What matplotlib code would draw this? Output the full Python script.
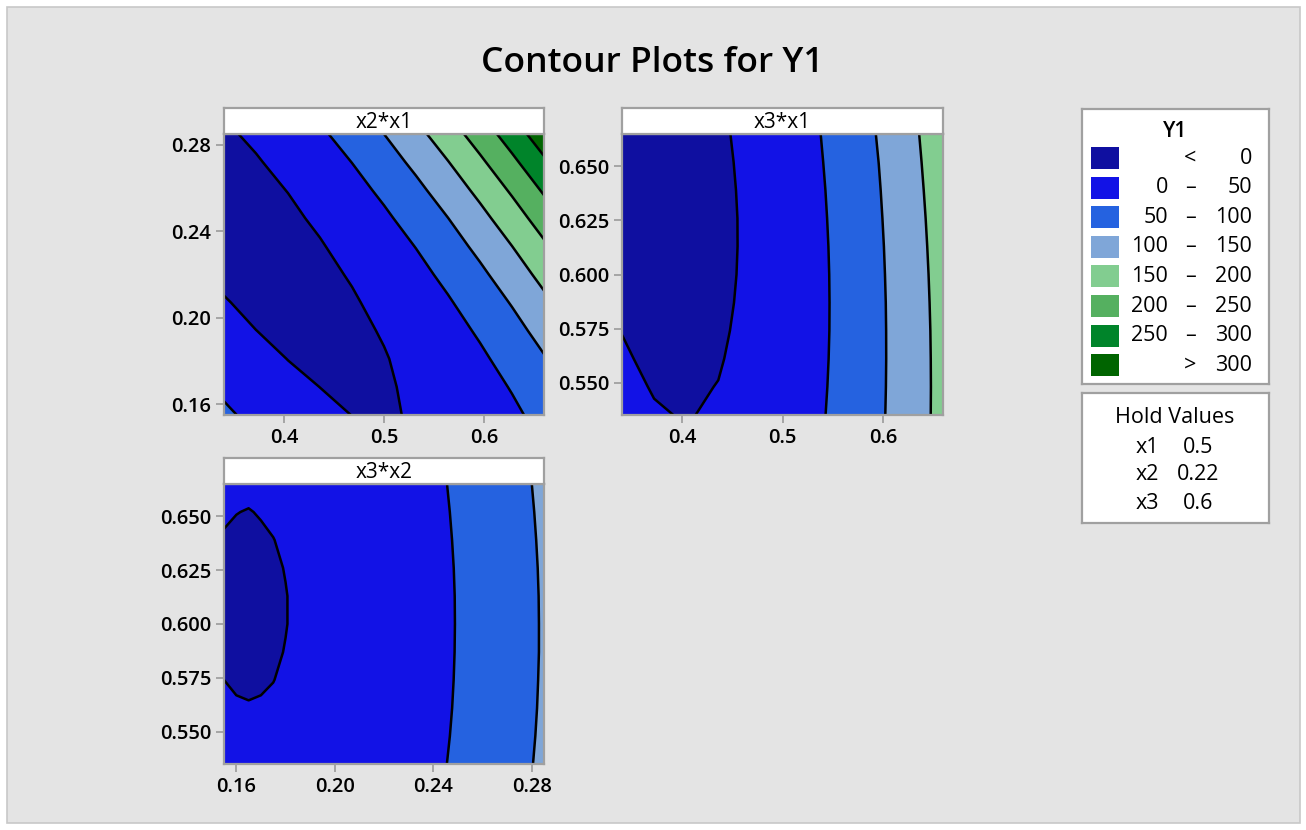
import numpy as np
import matplotlib.pyplot as plt
from matplotlib.patches import Rectangle

plt.rcParams['font.family'] = ['Open Sans', 'DejaVu Sans']

# grid nodes of the three contour panels
x1_nodes = [0.340, 0.372, 0.404, 0.436, 0.468, 0.500, 0.532, 0.564, 0.596, 0.628, 0.660]
x2_nodes = [0.155, 0.168, 0.181, 0.194, 0.207, 0.220, 0.233, 0.246, 0.259, 0.272, 0.285]
x3_nodes = [0.535, 0.548, 0.561, 0.574, 0.587, 0.600, 0.613, 0.626, 0.639, 0.652, 0.665]
x2_nodes_b = [0.155, 0.160, 0.165, 0.170, 0.175, 0.180, 0.185, 0.205, 0.225, 0.245, 0.265, 0.285]

# Y1 (rows = y nodes, cols = x nodes)
y1_x2x1 = [
    [58.8, 36.9, 20.0, 8.0, -0.3, -2.5, 2.0, 10.2, 23.3, 41.3, 64.4],
    [40.7, 22.1, 8.4, -0.2, -3.9, -2.5, 3.8, 15.2, 31.5, 52.8, 79.2],
    [25.2, 9.8, -0.5, -5.9, -6.2, -1.6, 8.1, 22.7, 42.3, 66.9, 96.6],
    [12.2, 0.2, -6.9, -8.9, -6.0, 2.0, 14.9, 32.8, 55.8, 83.7, 116.6],
    [1.9, -6.8, -10.6, -9.3, -3.1, 8.1, 24.4, 45.6, 71.8, 103.0, 139.2],
    [-5.8, -11.2, -11.7, -7.1, 2.4, 16.9, 36.4, 61.0, 90.5, 125.0, 164.5],
    [-10.8, -13.0, -10.2, -2.3, 10.5, 28.3, 51.1, 78.9, 111.8, 149.6, 192.4],
    [-13.3, -12.2, -6.0, 5.1, 21.2, 42.3, 68.4, 99.5, 135.6, 176.7, 222.8],
    [-13.2, -8.7, 0.7, 15.1, 34.5, 58.9, 88.3, 122.7, 162.1, 206.5, 255.9],
    [-10.4, -2.7, 10.0, 27.8, 50.5, 78.2, 110.9, 148.6, 191.3, 239.0, 291.6],
    [-5.0, 6.0, 22.0, 43.0, 69.0, 100.0, 136.0, 177.0, 223.0, 274.0, 330.0],
]
y1_x3x1 = [
    [8.8, 1.8, -1.2, 2.9, 11.0, 24.0, 42.1, 65.2, 93.3, 126.4, 164.6],
    [5.4, -1.3, -2.9, 0.5, 8.9, 22.3, 40.7, 64.1, 92.6, 126.0, 164.5],
    [2.3, -4.0, -5.3, -1.6, 7.1, 20.9, 39.6, 63.4, 92.2, 126.0, 164.8],
    [-0.4, -6.4, -7.3, -3.3, 5.8, 19.9, 38.9, 63.0, 92.2, 126.3, 165.4],
    [-2.7, -8.3, -9.0, -4.6, 4.8, 19.2, 38.6, 63.1, 92.5, 127.0, 166.5],
    [-4.6, -9.9, -10.2, -5.5, 4.2, 19.0, 38.7, 63.5, 93.3, 128.1, 167.9],
    [-6.1, -11.1, -11.1, -6.0, 4.0, 19.1, 39.2, 64.3, 94.4, 129.6, 169.7],
    [-7.3, -11.9, -11.5, -6.2, 4.2, 19.7, 40.1, 65.5, 96.0, 131.4, 171.9],
    [-8.0, -12.4, -11.6, -5.9, 4.8, 20.6, 41.3, 67.1, 97.9, 133.7, 174.5],
    [-8.4, -12.4, -11.4, -5.3, 5.8, 21.9, 43.0, 69.1, 100.2, 136.3, 177.5],
    [-8.4, -12.1, -10.7, -4.3, 7.1, 23.5, 45.0, 71.4, 102.9, 139.3, 180.8],
]
y1_x3x2 = [
    [4.3, 3.7, 3.5, 3.6, 4.1, 5.0, 6.2, 14.7, 29.1, 49.3, 75.3, 107.1],
    [2.5, 1.9, 1.7, 1.9, 2.4, 3.3, 4.5, 13.1, 27.5, 47.7, 73.8, 105.6],
    [1.0, 0.5, 0.3, 0.5, 1.0, 1.9, 3.1, 11.8, 26.3, 46.5, 72.6, 104.5],
    [-0.0, -0.6, -0.8, -0.6, -0.1, 0.9, 2.1, 10.8, 25.3, 45.7, 71.8, 103.8],
    [-0.8, -1.3, -1.5, -1.3, -0.8, 0.2, 1.4, 10.2, 24.8, 45.2, 71.3, 103.3],
    [-1.2, -1.7, -1.9, -1.7, -1.1, -0.2, 1.1, 9.9, 24.5, 45.0, 71.2, 103.3],
    [-1.3, -1.8, -1.9, -1.7, -1.1, -0.2, 1.1, 10.0, 24.7, 45.1, 71.4, 103.5],
    [-1.0, -1.5, -1.6, -1.4, -0.8, 0.2, 1.5, 10.4, 25.1, 45.6, 72.0, 104.1],
    [-0.4, -0.9, -1.0, -0.7, -0.1, 0.8, 2.2, 11.1, 25.9, 46.5, 72.9, 105.1],
    [0.6, 0.1, -0.2, 0.3, 0.9, 1.9, 3.2, 12.2, 27.1, 47.7, 74.1, 106.4],
    [1.9, 1.4, 1.3, 1.6, 2.2, 3.2, 4.6, 13.7, 28.5, 49.2, 75.7, 108.0],
]

levels = [-1000, 0, 50, 100, 150, 200, 250, 300, 1000]
colors = ['#0f0fa0', '#1212e6', '#2562e0', '#7fa6d8', '#82cd90', '#55b060', '#00842a', '#006400']
legend_lo = ['', '0', '50', '100', '150', '200', '250', '']
legend_mid = ['<', '–', '–', '–', '–', '–', '–', '>']
legend_hi = ['0', '50', '100', '150', '200', '250', '300', '300']
hold_names = ['x1', 'x2', 'x3']
hold_vals = ['0.5', '0.22', '0.6']

x1r = (0.34, 0.66)
x2r = (0.155, 0.285)
x3r = (0.535, 0.665)

W, H = 1306, 830
fig = plt.figure(figsize=(W / 100, H / 100), dpi=100)
fig.patch.set_facecolor('white')
fig.patches.append(Rectangle((7 / W, 7 / H), 1293 / W, 816 / H, transform=fig.transFigure,
                             facecolor='#e4e4e4', edgecolor='#c8c8c8', lw=1.2, zorder=-5))

fig.text(0.4996, 1 - 63 / H, 'Contour Plots for Y1', ha='center', va='center',
         fontsize=25.5, fontweight='semibold')

gray = '#a0a0a0'


def boxed(ax):
    ax.set_xticks([])
    ax.set_yticks([])
    for s in ax.spines.values():
        s.set_color(gray)
        s.set_linewidth(1.6)


def panel(px, py, pw, ph, gx, gy, z, xr, yr, xt, xl, yt, yl, title):
    ax = fig.add_axes([px / W, 1 - (py + ph) / H, pw / W, ph / H])
    z = np.array(z)
    ax.contourf(gx, gy, z, levels=levels, colors=colors)
    ax.contour(gx, gy, z, levels=levels[1:-1], colors='black', linewidths=1.8)
    ax.set_xlim(xr)
    ax.set_ylim(yr)
    ax.set_xticks(xt, xl)
    ax.set_yticks(yt, yl)
    for s in ax.spines.values():
        s.set_color(gray)
        s.set_linewidth(1.6)
    ax.tick_params(color=gray, length=6, width=1.3, labelsize=14.5, pad=3)
    for lab in ax.get_xticklabels() + ax.get_yticklabels():
        lab.set_fontweight('semibold')
    # header strip
    sa = fig.add_axes([px / W, 1 - py / H, pw / W, 26 / H])
    boxed(sa)
    sa.text(0.5, 0.45, title, ha='center', va='center', fontsize=15, transform=sa.transAxes)
    return ax


ticks_x1 = [0.4, 0.5, 0.6]
labels_x1 = ['0.4', '0.5', '0.6']
ticks_x2 = [0.16, 0.20, 0.24, 0.28]
labels_x2 = ['0.16', '0.20', '0.24', '0.28']
ticks_x3 = [0.55, 0.575, 0.6, 0.625, 0.65]
labels_x3 = ['0.550', '0.575', '0.600', '0.625', '0.650']

panel(224, 134, 320, 281, x1_nodes, x2_nodes, y1_x2x1, x1r, x2r,
      ticks_x1, labels_x1, ticks_x2, labels_x2, 'x2*x1')
panel(622, 134, 321, 281, x1_nodes, x3_nodes, y1_x3x1, x1r, x3r,
      ticks_x1, labels_x1, ticks_x3, labels_x3, 'x3*x1')
panel(224, 484, 320, 280, x2_nodes_b, x3_nodes, y1_x3x2, x2r, x3r,
      ticks_x2, labels_x2, ticks_x3, labels_x3, 'x3*x2')

# legend box
lg = fig.add_axes([1082 / W, 1 - 384 / H, 187 / W, 275 / H])
lg.set_xlim(0, 187)
lg.set_ylim(275, 0)
boxed(lg)
lg.text(93, 22, 'Y1', ha='center', va='center', fontsize=15, fontweight='semibold')
for i in range(len(colors)):
    yc = 49 + i * 29.6
    lg.add_patch(Rectangle((9, yc - 11), 28, 22, facecolor=colors[i], edgecolor='none'))
    lg.text(86, yc, legend_lo[i], ha='right', va='center', fontsize=15.5)
    lg.text(108, yc, legend_mid[i], ha='center', va='center', fontsize=15.5)
    lg.text(170, yc, legend_hi[i], ha='right', va='center', fontsize=15.5)

# hold values box
hv = fig.add_axes([1082 / W, 1 - 523 / H, 187 / W, 130 / H])
hv.set_xlim(0, 187)
hv.set_ylim(130, 0)
boxed(hv)
hv.text(93, 24, 'Hold Values', ha='center', va='center', fontsize=15.5)
for i, yc in enumerate([54, 81, 110]):
    hv.text(65, yc, hold_names[i], ha='center', va='center', fontsize=15.5)
    hv.text(116, yc, hold_vals[i], ha='center', va='center', fontsize=15.5)

fig.savefig('out.png', dpi=100)
